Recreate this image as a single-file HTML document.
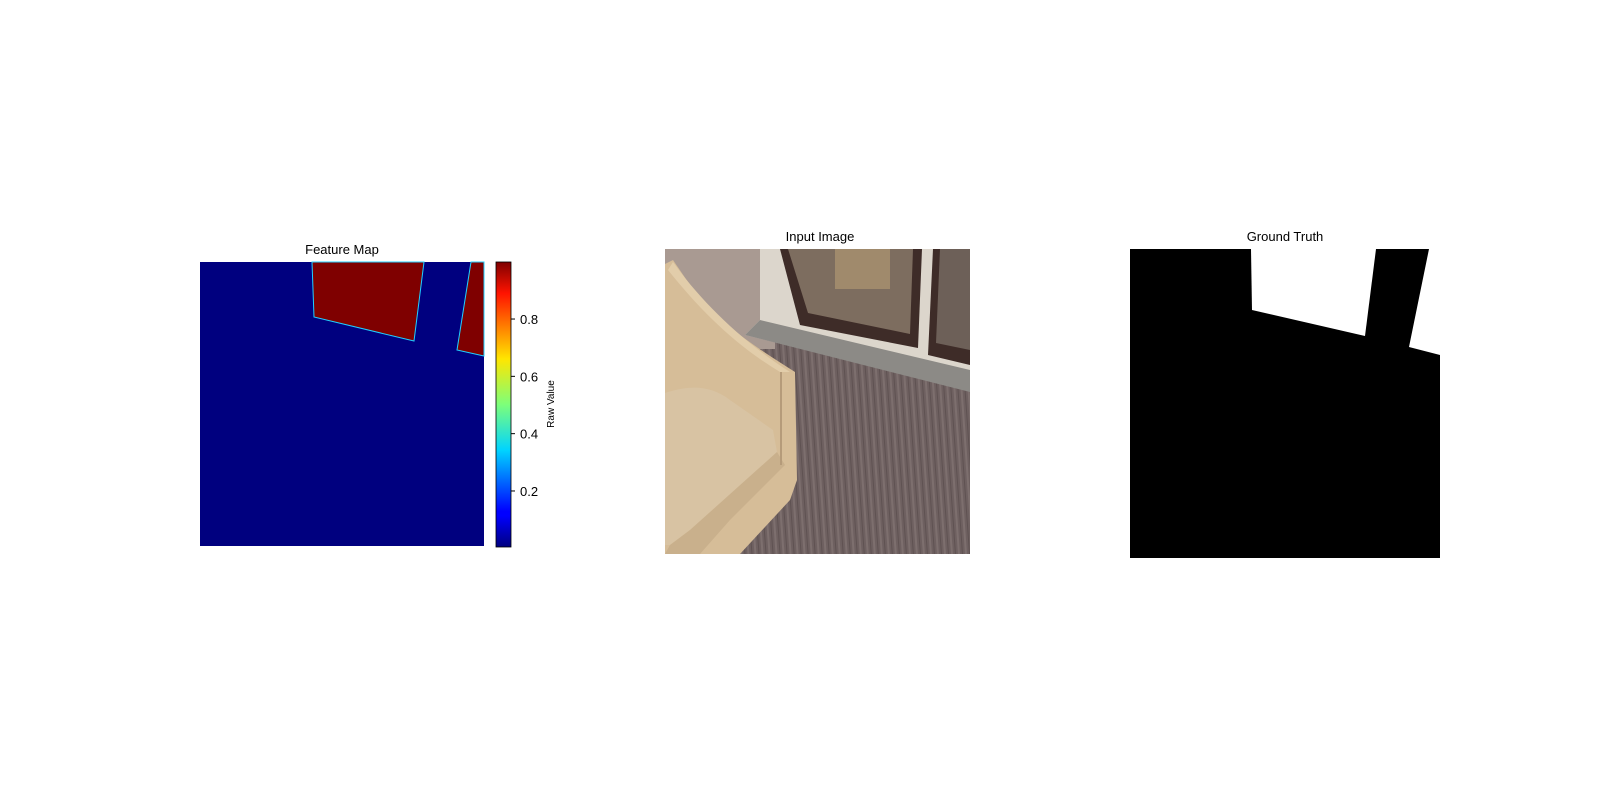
<!DOCTYPE html>
<html><head><meta charset="utf-8"><style>
html,body{margin:0;padding:0;background:#fff;}
svg text{font-family:"Liberation Sans","DejaVu Sans",sans-serif;}
</style></head><body>
<svg width="1600" height="800" viewBox="0 0 1600 800" xmlns="http://www.w3.org/2000/svg">
<defs>
<linearGradient id="jet" x1="0" y1="1" x2="0" y2="0">
<stop offset="0" stop-color="#00007f"/><stop offset="0.11" stop-color="#0000ff"/><stop offset="0.125" stop-color="#0000ff"/>
<stop offset="0.34" stop-color="#00d4ff"/><stop offset="0.5" stop-color="#7dff7a"/><stop offset="0.66" stop-color="#ffe600"/>
<stop offset="0.89" stop-color="#ff1300"/><stop offset="1" stop-color="#7f0000"/>
</linearGradient>
<pattern id="carpet" width="7" height="40" patternUnits="userSpaceOnUse" patternTransform="rotate(-4)">
<rect width="7" height="40" fill="#6e6060"/><rect width="2" height="40" fill="#7d6f6e"/><rect x="4" width="1" height="40" fill="#5f5252"/>
</pattern>
<clipPath id="imgclip"><rect x="665" y="249" width="305" height="305"/></clipPath>
</defs>

<g>
<text x="342" y="254" font-size="13" text-anchor="middle" fill="#000">Feature Map</text>
<rect x="200" y="262" width="284" height="284" fill="#00007f"/>
<polygon points="312,262 314,317 414,341 424,262" fill="#7f0000" stroke="#20d0ff" stroke-width="1"/>
<polygon points="471,262 457,350 484,356 484,262" fill="#7f0000" stroke="#20d0ff" stroke-width="1"/>
</g>
<g id="cbar">
<rect x="496" y="262" width="15" height="285" fill="url(#jet)" stroke="#000" stroke-width="0.8"/>
<text transform="translate(554,404) rotate(-90)" font-size="10" text-anchor="middle" fill="#000">Raw Value</text>
</g>

<g>
<text x="820" y="241" font-size="13" text-anchor="middle" fill="#000">Input Image</text>
<g clip-path="url(#imgclip)">
<rect x="665" y="249" width="305" height="305" fill="url(#carpet)"/>
<rect x="665" y="249" width="110" height="100" fill="#a99a92"/>
<polygon points="760,249 970,249 970,390 745,335 760,320" fill="#dcd6cc"/>
<polygon points="745,335 760,320 970,370 970,392" fill="#8c8a86"/>
<polygon points="780,249 922,249 918,348 800,325" fill="#3e2c28"/>
<polygon points="788,249 913,249 910,334 808,313" fill="#7d6d5f"/>
<rect x="835" y="249" width="55" height="40" fill="#a08a6c"/>
<polygon points="933,249 970,249 970,365 928,355" fill="#3e2c28"/>
<polygon points="940,249 970,249 970,350 936,343" fill="#6d6058"/>
<path d="M665,264 L673,260 C690,285 700,300 712,310 C730,330 760,350 795,372 L797,480 L790,500 L740,554 L665,554 Z" fill="#d6bd98"/>
<path d="M673,262 C700,300 740,340 790,372 L780,372 C735,345 700,310 668,270 Z" fill="#e2cdaa"/>
<path d="M665,393 C690,385 710,385 730,400 L773,430 L777,452 L735,490 L690,530 L670,545 L665,545 Z" fill="#d8c3a3"/>
<path d="M670,545 L690,530 L777,452 L785,465 L730,520 L700,554 L665,554 Z" fill="#c9b08c"/>
<line x1="781" y1="372" x2="781" y2="465" stroke="#b59b7a" stroke-width="2"/>
</g>
</g>

<g>
<text x="1285" y="241" font-size="13" text-anchor="middle" fill="#000">Ground Truth</text>
<rect x="1130" y="249" width="310" height="309" fill="#000"/>
<polygon points="1251,249 1252,310 1365,336 1376,249" fill="#fff"/>
<polygon points="1429,249 1409,347 1440,355 1440,249" fill="#fff"/>
</g>
<script>
var cbTicks=[0.2,0.4,0.6,0.8];
var cbMin=0.0045, cbMax=0.999;
var g=document.getElementById('cbar');
function cy(v){return 547-(v-cbMin)/(cbMax-cbMin)*285;}
cbTicks.forEach(function(t){
 var l=document.createElementNS('http://www.w3.org/2000/svg','line');
 l.setAttribute('x1',511);l.setAttribute('x2',515);l.setAttribute('y1',cy(t));l.setAttribute('y2',cy(t));l.setAttribute('stroke','#000');
 
 
 g.appendChild(l);
 var tx=document.createElementNS('http://www.w3.org/2000/svg','text');
 tx.setAttribute('x',520);tx.setAttribute('y',cy(t)+5);tx.setAttribute('font-size','13');
 tx.textContent=t.toFixed(1);
 
 
 g.appendChild(tx);
});
</script>
</svg>
</body></html>
